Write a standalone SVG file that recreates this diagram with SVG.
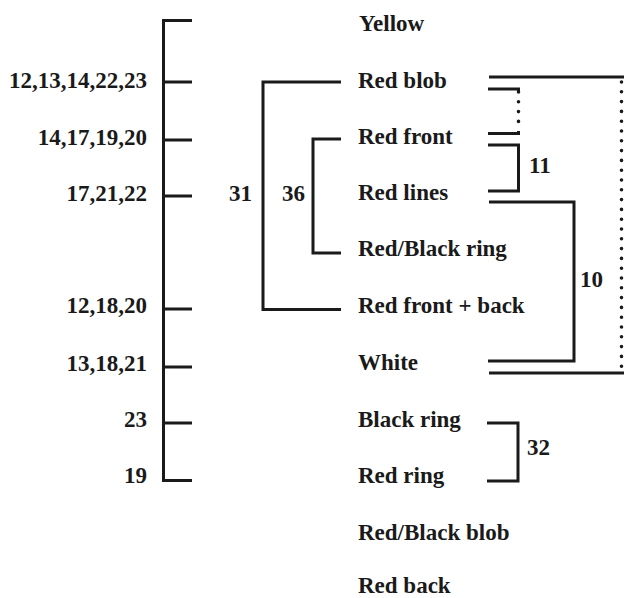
<svg xmlns="http://www.w3.org/2000/svg" width="624" height="598" viewBox="0 0 624 598">
<style>
text{font-family:"Liberation Serif","Times New Roman",serif;font-weight:bold;font-size:23px;fill:#1a1a1a}
.num{text-anchor:end}
.ln{fill:none;stroke:#1a1a1a;stroke-width:3;stroke-linecap:butt;stroke-linejoin:miter}
.dot{fill:none;stroke:#1a1a1a;stroke-width:3.6;stroke-linecap:round;stroke-dasharray:0 9.8}
</style>
<rect width="624" height="598" fill="#fff"/>
<g id="sites">
<text class="num" x="147" y="88">12,13,14,22,23</text>
<text class="num" x="147" y="145">14,17,19,20</text>
<text class="num" x="147" y="201">17,21,22</text>
<text class="num" x="147" y="313">12,18,20</text>
<text class="num" x="147" y="371">13,18,21</text>
<text class="num" x="147" y="427">23</text>
<text class="num" x="147" y="483">19</text>
</g>
<g id="labels">
<text x="252" y="201" text-anchor="end">31</text>
<text x="305" y="201" text-anchor="end">36</text>
<text x="529" y="173">11</text>
<text x="580" y="287">10</text>
<text x="527" y="455">32</text>
</g>
<g id="node-yellow"><text x="359" y="31">Yellow</text></g>
<g id="node-red-blob"><text x="358" y="88">Red blob</text></g>
<g id="node-red-front"><text x="358" y="144">Red front</text></g>
<g id="node-red-lines"><text x="358" y="200">Red lines</text></g>
<g id="node-red-black-ring"><text x="358" y="256">Red/Black ring</text></g>
<g id="node-red-front-back"><text x="358" y="313">Red front + back</text></g>
<g id="node-white"><text x="358" y="370">White</text></g>
<g id="node-black-ring"><text x="358" y="427">Black ring</text></g>
<g id="node-red-ring"><text x="358" y="483">Red ring</text></g>
<g id="node-red-black-blob"><text x="358" y="540">Red/Black blob</text></g>
<g id="node-red-back"><text x="358" y="593">Red back</text></g>
<g id="connectors">
<path class="ln" d="M192 20.5H163.5V480.5H192"/>
<path class="ln" d="M163.5 82H192M163.5 140H192M163.5 196H192M163.5 309H192M163.5 367H192M163.5 423H192"/>
<path class="ln" d="M341 82H263V309.5H341"/>
<path class="ln" d="M341 139H313V253H341"/>
<path class="ln" d="M489 77H624"/>
<path class="ln" d="M489 373H624"/>
<path class="dot" d="M621.5 82V370"/>
<path class="ln" d="M488 89H518.5V91"/>
<path class="ln" d="M488 133.5H518.5V131"/>
<path class="dot" d="M518.5 92V131"/>
<path class="ln" d="M488 145H518.5V191H488"/>
<path class="ln" d="M489 202H574V361H488"/>
<path class="ln" d="M487 423H518V481H487"/>
</g>
</svg>
